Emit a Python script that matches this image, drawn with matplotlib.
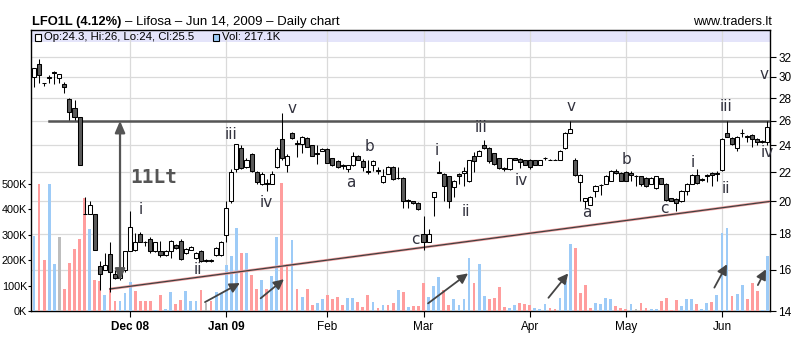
import matplotlib
matplotlib.use("Agg")
import matplotlib.pyplot as plt
from matplotlib.ticker import FixedLocator, FixedFormatter, NullLocator
from matplotlib.patches import Rectangle

# daily OHLC, one entry per trading day (Nov 2008 - Jun 12, 2009)
opens = [30.0, 31.25, 29.4, 29.95, 30.45, 29.85, 29.3, 27.9, 27.1, 26.3,
         19.2, 19.2, 19.2, 16.2, 16.0, 16.85, 15.8, 15.6, 16.0, 17.0,
         17.05, 18.0, 17.55, 17.7, 17.0, 17.0, 16.8, 17.0, 17.35, 17.6,
         16.9, 17.08, 16.66, 17.0, 16.45, 16.45, 16.8, 16.8, 17.9, 20.0,
         22.2, 23.8, 22.4, 23.3, 22.0, 21.2, 21.25, 21.2, 22.4, 24.5,
         22.5, 25.0, 24.2, 24.1, 24.6, 24.0, 23.4, 23.6, 23.75, 23.0,
         22.8, 22.5, 22.2, 22.5, 23.2, 22.8, 22.05, 22.5, 22.15, 21.3,
         21.9, 22.4, 21.6, 21.6, 20.1, 20.0, 19.9, 18.0, 17.55, 20.3,
         22.0, 21.9, 21.7, 20.95, 21.9, 21.95, 21.35, 23.2, 23.2, 24.0,
         23.8, 23.4, 23.0, 22.3, 22.2, 23.0, 22.95, 22.85, 22.9, 22.85,
         22.55, 23.05, 22.9, 22.9, 22.9, 23.8, 25.0, 22.9, 21.3, 20.0,
         19.8, 20.7, 21.1, 21.2, 21.4, 22.1, 21.95, 22.0, 21.95, 21.75,
         21.7, 21.6, 21.2, 20.9, 21.55, 21.2, 20.2, 20.15, 20.0, 20.7,
         21.2, 21.8, 21.5, 21.8, 21.95, 21.95, 22.15, 25.0, 24.6, 23.8,
         25.0, 24.75, 24.85, 24.5, 24.35, 24.3]
highs = [30.85, 31.8, 29.45, 30.2, 30.55, 30.3, 29.5, 28.0, 27.8, 26.3,
         20.3, 20.0, 19.2, 16.5, 16.9, 17.5, 16.0, 16.3, 17.0, 19.4,
         18.05, 18.1, 17.6, 17.8, 17.55, 17.6, 17.05, 17.65, 17.4, 17.7,
         17.2, 17.3, 16.95, 17.05, 16.6, 16.6, 17.25, 17.6, 20.0, 22.2,
         24.1, 24.0, 23.0, 23.4, 22.05, 22.0, 21.5, 22.1, 23.9, 26.7,
         23.3, 25.1, 24.4, 24.75, 24.7, 24.05, 24.0, 23.8, 23.8, 23.05,
         22.85, 22.6, 22.55, 23.5, 23.25, 22.95, 22.9, 22.85, 22.4, 22.2,
         22.45, 22.45, 22.4, 21.65, 20.15, 20.05, 19.95, 19.1, 18.3, 20.65,
         22.8, 21.95, 21.75, 21.45, 21.95, 22.4, 22.9, 23.5, 23.65, 24.4,
         23.85, 23.45, 23.05, 22.35, 23.05, 23.05, 23.0, 22.9, 22.95, 22.9,
         22.9, 23.1, 22.95, 22.95, 23.65, 25.05, 26.0, 23.05, 21.85, 20.25,
         20.35, 21.1, 21.15, 21.8, 22.15, 22.2, 22.0, 22.05, 22.05, 21.8,
         21.75, 21.65, 21.65, 21.75, 21.6, 21.25, 20.25, 20.2, 20.75, 21.25,
         21.85, 22.2, 21.55, 21.9, 22.0, 22.05, 24.55, 26.0, 24.65, 24.75,
         25.3, 24.8, 24.9, 24.55, 24.4, 26.0]
lows = [29.0, 29.4, 29.1, 29.4, 29.3, 29.4, 28.5, 26.1, 26.1, 22.5,
        19.2, 19.2, 17.1, 15.0, 16.0, 14.9, 15.55, 15.5, 15.9, 17.0,
        17.0, 17.5, 17.3, 16.9, 16.95, 16.7, 16.75, 16.65, 17.15, 16.55,
        16.85, 17.05, 16.6, 16.4, 16.4, 16.4, 16.75, 16.75, 17.5, 19.9,
        22.0, 22.2, 22.3, 22.0, 21.2, 21.1, 20.7, 21.15, 22.3, 22.9,
        22.0, 24.5, 23.1, 23.4, 23.85, 23.15, 22.6, 23.55, 22.65, 22.45,
        22.3, 22.2, 22.0, 22.45, 22.85, 22.1, 21.9, 22.1, 21.9, 21.25,
        21.85, 21.45, 21.5, 19.6, 19.6, 19.85, 19.45, 17.1, 17.5, 19.1,
        21.95, 20.0, 19.6, 20.3, 21.2, 21.0, 21.3, 22.0, 23.15, 23.75,
        22.7, 22.55, 22.25, 22.1, 22.15, 22.85, 22.3, 22.5, 22.2, 22.5,
        22.5, 22.85, 22.85, 22.85, 22.85, 23.75, 24.95, 21.7, 20.0, 19.6,
        19.75, 20.3, 20.4, 21.15, 21.35, 21.9, 21.35, 21.35, 21.4, 21.0,
        21.0, 20.95, 21.15, 20.85, 21.15, 20.05, 20.0, 19.4, 19.95, 20.4,
        21.15, 21.2, 21.4, 21.3, 21.0, 21.4, 22.1, 24.65, 24.05, 23.6,
        24.7, 24.3, 23.9, 24.0, 24.2, 24.0]
closes = [30.85, 30.15, 29.4, 29.9, 30.35, 30.25, 29.0, 26.75, 26.3, 22.5,
          19.2, 19.8, 17.1, 15.8, 16.25, 15.9, 15.6, 15.95, 17.0, 18.4,
          17.5, 17.55, 17.5, 17.0, 17.5, 16.8, 17.0, 17.6, 17.2, 16.6,
          17.15, 17.27, 16.9, 16.45, 16.55, 16.55, 17.2, 17.5, 19.6, 22.0,
          24.1, 22.3, 22.9, 22.1, 21.3, 21.9, 21.2, 21.85, 23.7, 23.0,
          23.2, 24.6, 24.1, 24.7, 23.9, 23.2, 23.3, 23.75, 22.7, 22.5,
          22.4, 22.45, 22.5, 23.2, 22.9, 22.4, 22.0, 22.8, 22.1, 21.7,
          22.4, 21.5, 21.55, 20.0, 20.0, 19.9, 19.5, 17.55, 18.0, 20.6,
          21.96, 21.0, 20.0, 21.4, 21.7, 22.05, 22.85, 22.8, 23.6, 23.8,
          22.8, 22.6, 22.3, 22.2, 23.0, 22.9, 22.75, 22.55, 22.4, 22.55,
          22.85, 23.0, 22.88, 22.88, 23.6, 25.0, 25.3, 21.8, 21.8, 20.2,
          20.3, 21.05, 21.08, 21.75, 22.1, 21.95, 21.4, 21.4, 21.8, 21.7,
          21.2, 21.0, 21.6, 21.7, 21.2, 20.1, 20.05, 19.9, 20.7, 21.2,
          21.8, 21.25, 21.45, 21.75, 21.8, 21.9, 24.5, 24.7, 24.1, 24.7,
          24.95, 24.7, 24.5, 24.3, 24.3, 25.5]

# volume in thousands, and its colour code: b = up, p = down, g = unchanged
volume_k = [297, 500, 200, 500, 186, 291, 87, 190, 243, 285,
            446, 324, 122, 118, 64, 90, 40, 40, 70, 113,
            78, 39, 39, 39, 4, 62, 7, 76, 26, 42,
            80, 39, 39, 83, 30, 39, 76, 70, 181, 216,
            325, 230, 230, 142, 87, 122, 87, 138, 291, 503,
            186, 279, 87, 55, 87, 24, 33, 46, 63, 46,
            55, 24, 50, 50, 37, 16, 63, 37, 13, 24,
            24, 33, 81, 76, 16, 20, 20, 112, 55, 98,
            134, 81, 24, 46, 24, 46, 207, 112, 186, 59,
            46, 52, 94, 16, 10, 24, 33, 26, 24, 10,
            7, 26, 10, 7, 52, 118, 265, 249, 72, 101,
            10, 30, 29, 50, 46, 20, 10, 7, 26, 9,
            30, 10, 9, 9, 39, 50, 4, 42, 20, 46,
            46, 26, 7, 33, 35, 62, 308, 325, 59, 66,
            102, 46, 109, 79, 3, 217]
volume_dir = ("bppbbgpppp" "pbppbppbbb" "ppppbpbbpp" "bbbpgpbbbb" "bpbppbpbbp"
              "pbpbppbbpp" "ppbbpppbpb" "ppbpbpppbb" "bppbbbbpbb" "ppppbbpppb"
              "bbppbbbppp" "pbbbbpppbg" "ppbbppppbb" "bpbbpbbbpb" "bpppbb")

month_pos = [19, 38, 58, 77, 98, 117, 136]
month_labels = ["Dec 08", "Jan 09", "Feb", "Mar", "Apr", "May", "Jun"]
price_ticks = [14, 16, 18, 20, 22, 24, 26, 28, 30, 32]
volume_ticks = [0, 100, 200, 300, 400, 500]

# Elliott wave marks (day index, price level)
wave_text = ["i", "ii", "iii", "iv", "v", "a", "b", "c", "i", "ii", "iii",
             "iv", "v", "a", "b", "c", "i", "ii", "iii", "iv", "v"]
wave_x = [21.1, 32.4, 38.9, 46.0, 51.1, 62.6, 66.4, 75.3, 79.6, 85.3, 88.4,
          96.3, 106.2, 109.2, 117.1, 124.7, 130.2, 136.8, 136.8, 144.9, 144.4]
wave_y = [19.49, 16.04, 24.85, 19.92, 27.1, 21.29, 23.93, 17.68, 23.59, 19.38,
          25.48, 21.43, 27.24, 19.28, 22.92, 19.53, 22.67, 20.84, 27.24, 23.42,
          30.19]

# resistance, support trend and the 11 Lt target arrow
resistance = 26.0
resistance_start = 2.96
support_x = [14.95, 145.5]
support_y = [15.04, 20.0]
target_x = 17.0
target_y = [26.0, 15.45]

# volume pressure arrows: (x0, v0, x1, v1)
vol_arrows = [(33.8, 35, 40.7, 110), (44.8, 50, 49.4, 125),
              (77.9, 30, 85.8, 148), (101.7, 52, 105.6, 148),
              (134.5, 92, 137.0, 184), (143.1, 102, 144.7, 164)]

n = len(closes)
days = list(range(n))
vol_colors = {"b": "#9dcbf7", "p": "#ff9d9d", "g": "#bdbdbd"}

fig = plt.figure(figsize=(7.95, 3.46), dpi=100)
rect = [31 / 795, (346 - 311) / 346, 739 / 795, 281 / 346]
xlim = (-0.6, 145.5)

# background axes: grid, price axis on the right, months below
ax_bg = fig.add_axes(rect, label="bg")
ax_bg.set_yscale("log")
ax_bg.set_ylim(14, 34.94)
ax_bg.set_xlim(*xlim)
ax_bg.yaxis.set_major_locator(FixedLocator(price_ticks))
ax_bg.yaxis.set_major_formatter(FixedFormatter([str(t) for t in price_ticks]))
ax_bg.yaxis.set_minor_locator(NullLocator())
ax_bg.yaxis.tick_right()
ax_bg.set_xticks(month_pos)
ax_bg.set_xticklabels(month_labels)
for lbl in ax_bg.get_xticklabels()[:2]:
    lbl.set_fontweight("bold")
ax_bg.tick_params(axis="both", direction="out", length=4, width=0.8,
                  labelsize=8.5, colors="black")
ax_bg.tick_params(axis="x", pad=3)
ax_bg.tick_params(axis="y", pad=2)
for lbl in ax_bg.get_xticklabels() + ax_bg.get_yticklabels():
    lbl.set_family("Liberation Sans")
ax_bg.set_axisbelow(True)
ax_bg.grid(True, color="#dadada", lw=0.9)
for sp in ax_bg.spines.values():
    sp.set_color("black")
    sp.set_linewidth(1.0)
ax_bg.add_patch(Rectangle((0, 0.956), 1, 0.044, transform=ax_bg.transAxes,
                          facecolor="#e4e4fa", edgecolor="none", zorder=0.2))

# volume axes on the left
ax_vol = fig.add_axes(rect, label="vol", sharex=ax_bg)
ax_vol.patch.set_visible(False)
for sp in ax_vol.spines.values():
    sp.set_visible(False)
ax_vol.bar(days, volume_k, width=0.55,
           color=[vol_colors[c] for c in volume_dir], linewidth=0)
ax_vol.set_ylim(0, 1106)
ax_vol.set_yticks(volume_ticks)
ax_vol.set_yticklabels([f"{v}K" for v in volume_ticks])
ax_vol.tick_params(axis="y", direction="out", length=2, width=0.8,
                   labelsize=7.8, pad=0.8)
ax_vol.tick_params(axis="x", bottom=False, labelbottom=False)
for lbl in ax_vol.get_yticklabels():
    lbl.set_family("Liberation Sans")

# price axes on top: candles and drawings
ax = fig.add_axes(rect, label="px", sharex=ax_bg, sharey=ax_bg)
ax.axis("off")

# support trend line (pink halo under dark line)
ax.plot(support_x, support_y, color="#f4a0a0", lw=1.9, solid_capstyle="butt", zorder=2)
ax.plot(support_x, support_y, color="#404040", lw=0.9, zorder=2.1)

# resistance
ax.plot([resistance_start, xlim[1]], [resistance, resistance], color="#555555",
        lw=1.8, zorder=2)

ax.vlines(days, lows, highs, color="black", lw=0.75, zorder=3)
up = [c >= o for o, c in zip(opens, closes)]
bottoms = [min(o, c) for o, c in zip(opens, closes)]
heights = [abs(c - o) for o, c in zip(opens, closes)]
ax.bar(days, heights, bottom=bottoms, width=0.8,
       color=["white" if u else "#5a5a5a" for u in up],
       edgecolor="black", linewidth=0.75, zorder=4)

# 11 Lt target
ax.annotate("", xy=(target_x, target_y[0]), xytext=(target_x, target_y[1]),
            arrowprops=dict(arrowstyle="<|-|>,head_length=0.7,head_width=0.3",
                            color="#555555", lw=1.6, shrinkA=0, shrinkB=0),
            zorder=5)
ax.text(19.0, 21.6, "11Lt", fontsize=14, family="DejaVu Sans Mono",
        fontweight="bold", color="#555555", ha="left", va="center", zorder=5)

for t, x, y in zip(wave_text, wave_x, wave_y):
    ax.text(x, y, t, fontsize=11, family="DejaVu Sans", color="#33333f",
            ha="center", va="center", zorder=6)

for x0, v0, x1, v1 in vol_arrows:
    ax_vol.annotate("", xy=(x1, v1), xytext=(x0, v0),
                    arrowprops=dict(arrowstyle="-|>,head_length=0.6,head_width=0.3",
                                    color="#444444", lw=1.3, shrinkA=0, shrinkB=0))

# header
fig.text(32 / 795, 1 - 22 / 346, "LFO1L (4.12%)", fontsize=9.3,
         fontweight="bold", family="Liberation Sans", va="center")
fig.text(125 / 795, 1 - 22 / 346, "\u2013 Lifosa \u2013 Jun 14, 2009 \u2013 Daily chart",
         fontsize=9.5, family="Liberation Sans", va="center")
fig.text(772 / 795, 1 - 22 / 346, "www.traders.lt", fontsize=9,
         family="Liberation Sans", ha="right", va="center")

# legend strip
ax_bg.add_patch(Rectangle((35 / 795, 1 - 40.5 / 346), 6 / 795, 6 / 346,
                          transform=fig.transFigure, facecolor="white",
                          edgecolor="black", lw=0.8, zorder=3))
fig.text(44 / 795, 1 - 37.3 / 346, "Op:24.3, Hi:26, Lo:24, Cl:25.5",
         fontsize=8.2, family="Liberation Sans", va="center")
ax_bg.add_patch(Rectangle((213 / 795, 1 - 40.5 / 346), 6 / 795, 6 / 346,
                          transform=fig.transFigure, facecolor="#9dcbf7",
                          edgecolor="black", lw=0.8, zorder=3))
fig.text(222 / 795, 1 - 37.3 / 346, "Vol: 217.1K",
         fontsize=8.2, family="Liberation Sans", va="center")

fig.savefig("out.png", dpi=100)
